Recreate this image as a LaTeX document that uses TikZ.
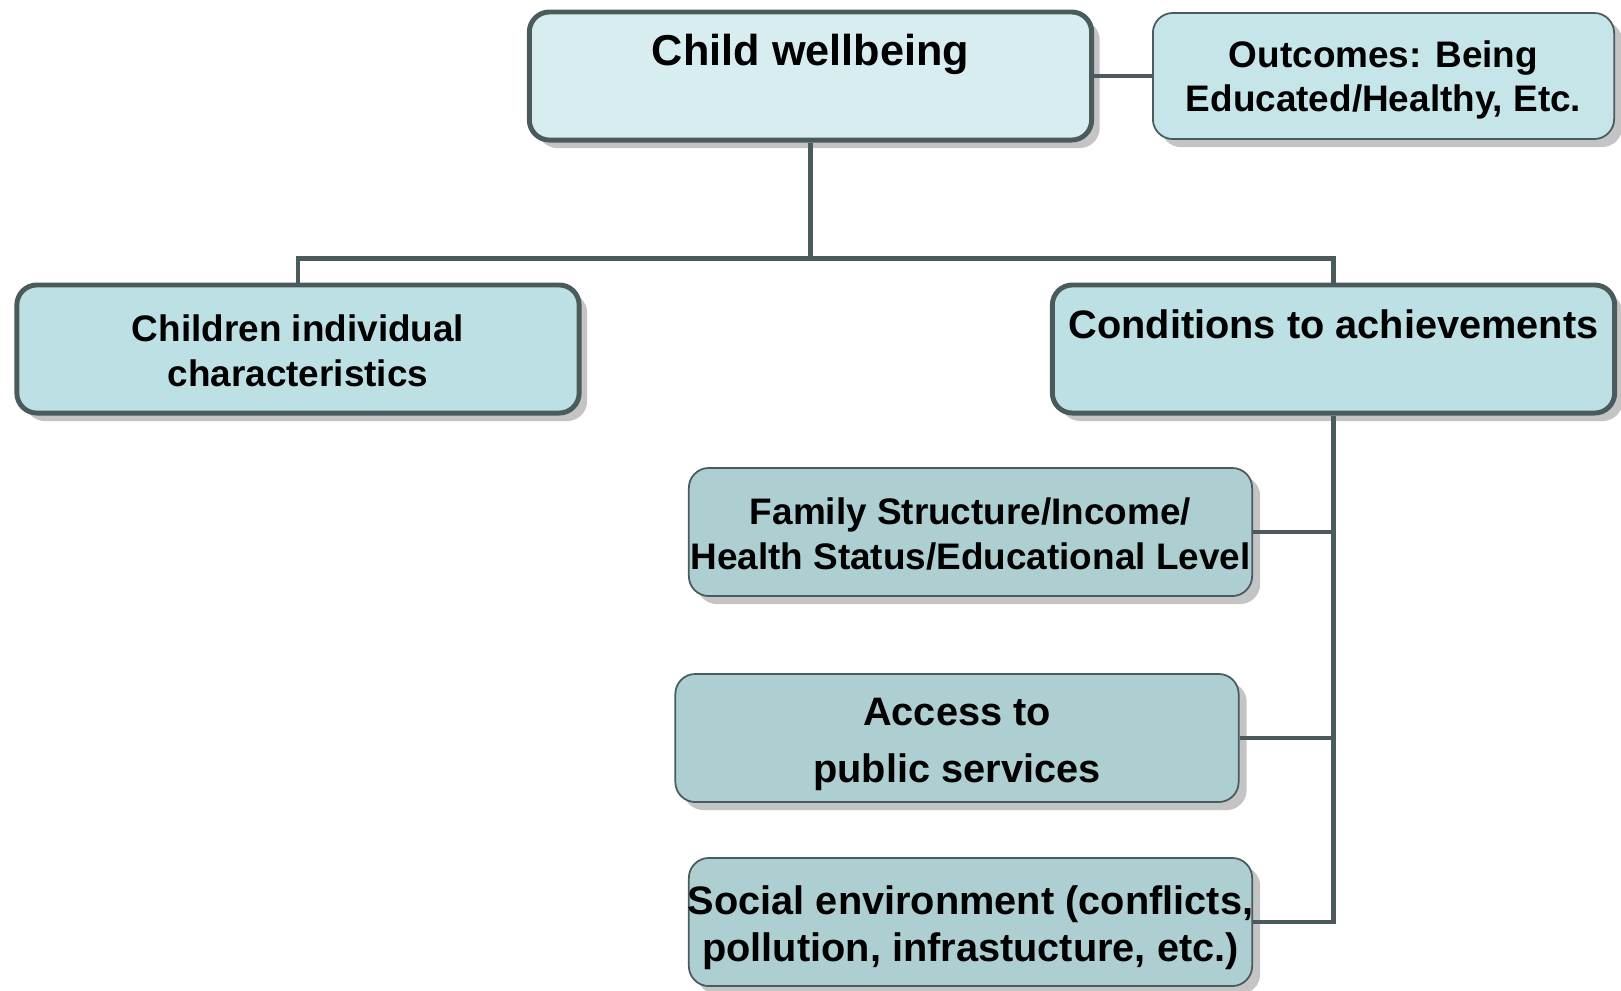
\documentclass[tikz,border=0pt]{standalone}
\usepackage{fontspec}
\setmainfont{Liberation Sans}
\usetikzlibrary{positioning, shadows}
\definecolor{Slate}{HTML}{4B5B5D}
\definecolor{PaleTeal}{HTML}{D8EDF0}
\definecolor{LightTeal}{HTML}{C6E5E8}
\definecolor{MidTeal}{HTML}{BCE0E4}
\definecolor{DeepTeal}{HTML}{AECFD2}
\definecolor{Shade}{HTML}{C4C4C4}

\tikzset{
  box/.style={draw=Slate, rounded corners=0.2cm,
    drop shadow={shadow xshift=0.08cm, shadow yshift=-0.08cm, fill=Shade, opacity=1}},
  mainbox/.style={box, line width=1.4pt, minimum width=5.62cm, minimum height=1.28cm},
  subbox/.style={box, line width=0.5pt, fill=DeepTeal, minimum width=5.63cm, minimum height=1.28cm},
  boxtext/.style={inner sep=0pt, align=center, font=\bfseries\fontsize{10.5}{12.7}\selectfont},
  headtext/.style={boxtext, font=\bfseries\fontsize{11.5}{13}\selectfont},
  link/.style={draw=Slate, line width=1.2pt},
}

\begin{document}
\begin{tikzpicture}[x=0.01cm, y=-0.01cm]
  \useasboundingbox (0,0) rectangle (1621,990);

  % top level
  \node[mainbox, fill=PaleTeal] (child) at (810.5,76) {};
  \node[headtext, font=\bfseries\fontsize{12.3}{14}\selectfont, below=0.24cm of child.north]
    (childtxt) {Child wellbeing};
  \node[box, line width=0.5pt, fill=LightTeal, minimum width=4.61cm, minimum height=1.26cm]
    (outcome) at (1383.5,76) {};
  \node[boxtext, yshift=-0.04cm] (outcometxt) at (outcome.center)
    {Outcomes: Being\\Educated/Healthy, Etc.};

  % second level
  \node[mainbox, fill=MidTeal] (kids) at (298,349) {};
  \node[boxtext, yshift=-0.015cm] (kidstxt) at (kids.center)
    {Children individual\\characteristics};
  \node[mainbox, fill=MidTeal] (cond) at (1333.5,349) {};
  \node[headtext, font=\bfseries\fontsize{11.3}{13}\selectfont, below=0.26cm of cond.north]
    (condtxt) {Conditions to achievements};

  % conditions
  \node[subbox] (family) at (970.5,532) {};
  \node[boxtext, yshift=-0.02cm] (familytxt) at (family.center)
    {Family Structure/Income/\\Health Status/Educational Level};
  \node[subbox] (access) at (957,738) {};
  \node[boxtext, font=\bfseries\fontsize{11.3}{16.2}\selectfont, yshift=-0.06cm]
    (accesstxt) at (access.center) {Access to\\public services};
  \node[subbox] (social) at (970.5,922) {};
  \node[boxtext, font=\bfseries\fontsize{11.3}{13.5}\selectfont, yshift=-0.055cm]
    (socialtxt) at (social.center) {Social environment (conflicts,\\pollution, infrastucture, etc.)};

  % connectors
  \coordinate (fork) at (810.5,258.5);
  \draw[link] (child.east) -- (outcome.west);
  \draw[link] (child.south) -- (fork);
  \draw[link] (kids.north) |- (fork) -| (cond.north);
  \draw[link] (cond.south) |- (social.east);
  \draw[link] (family.east) -- (family.east -| cond.south);
  \draw[link] (access.east) -- (access.east -| cond.south);
\end{tikzpicture}
\end{document}
